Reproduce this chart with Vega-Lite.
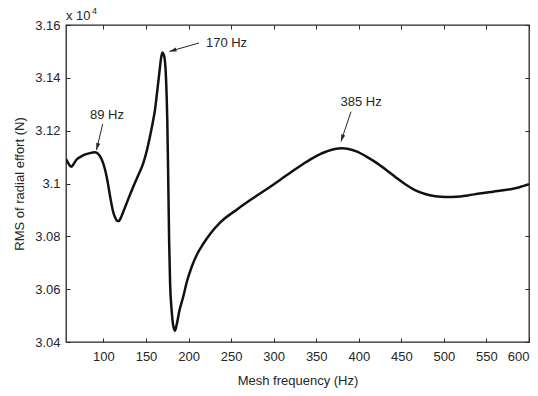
{
  "$schema": "https://vega.github.io/schema/vega-lite/v6.json",
  "width": 463,
  "height": 317,
  "autosize": "none",
  "padding": {"left": 66, "top": 25, "right": 9, "bottom": 54},
  "background": "white",
  "config": {
    "font": "Liberation Sans",
    "view": {"stroke": "#262626", "strokeWidth": 1.3},
    "axis": {
      "grid": false,
      "domain": false,
      "offset": -4,
      "tickColor": "#262626",
      "tickWidth": 1,
      "tickSize": 4,
      "labelFont": "Liberation Sans",
      "labelFontSize": 13,
      "labelColor": "#262626",
      "titleFont": "Liberation Sans",
      "titleFontSize": 13,
      "titleFontWeight": "normal",
      "titleColor": "#262626"
    }
  },
  "datasets": {
    "curve": [
      {"f": 56, "v": 3.1093}, {"f": 59, "v": 3.1075}, {"f": 62, "v": 3.1063}, {"f": 65, "v": 3.1074},
      {"f": 68.5, "v": 3.1091}, {"f": 73, "v": 3.1101}, {"f": 78, "v": 3.1109}, {"f": 84, "v": 3.1115},
      {"f": 90, "v": 3.1118}, {"f": 95, "v": 3.1108}, {"f": 99, "v": 3.1083}, {"f": 102, "v": 3.1051},
      {"f": 105, "v": 3.1005}, {"f": 108, "v": 3.0948}, {"f": 111, "v": 3.0898}, {"f": 113.6, "v": 3.0872},
      {"f": 116, "v": 3.0859}, {"f": 118, "v": 3.0858}, {"f": 120.5, "v": 3.0871}, {"f": 123.3, "v": 3.0893},
      {"f": 129, "v": 3.094}, {"f": 135, "v": 3.0988}, {"f": 141, "v": 3.1032}, {"f": 146.8, "v": 3.1077},
      {"f": 151, "v": 3.1125}, {"f": 154.6, "v": 3.1177}, {"f": 158, "v": 3.1232}, {"f": 160.5, "v": 3.1278},
      {"f": 163, "v": 3.1345}, {"f": 165.6, "v": 3.1417}, {"f": 167.5, "v": 3.147}, {"f": 169.2, "v": 3.1496},
      {"f": 170.8, "v": 3.1488}, {"f": 172.3, "v": 3.1462}, {"f": 173.6, "v": 3.1392}, {"f": 175, "v": 3.124},
      {"f": 176.2, "v": 3.1}, {"f": 177.2, "v": 3.078}, {"f": 178.3, "v": 3.0623}, {"f": 180, "v": 3.0525},
      {"f": 182, "v": 3.0462}, {"f": 184, "v": 3.0443}, {"f": 186, "v": 3.0465}, {"f": 189, "v": 3.0515},
      {"f": 193.8, "v": 3.0572}, {"f": 198, "v": 3.0628}, {"f": 203.5, "v": 3.0683}, {"f": 210, "v": 3.0732},
      {"f": 217.3, "v": 3.0772}, {"f": 226, "v": 3.0812}, {"f": 237, "v": 3.0852}, {"f": 257, "v": 3.0902},
      {"f": 276, "v": 3.0945}, {"f": 296, "v": 3.0988}, {"f": 316, "v": 3.1033}, {"f": 335, "v": 3.1075},
      {"f": 350, "v": 3.1104}, {"f": 362, "v": 3.1121}, {"f": 372, "v": 3.1131}, {"f": 380, "v": 3.1133},
      {"f": 388, "v": 3.1131}, {"f": 398, "v": 3.1121}, {"f": 409, "v": 3.1102}, {"f": 420, "v": 3.108},
      {"f": 432, "v": 3.1052}, {"f": 444, "v": 3.1022}, {"f": 455, "v": 3.0996}, {"f": 466, "v": 3.0975},
      {"f": 478, "v": 3.096}, {"f": 490, "v": 3.0952}, {"f": 502, "v": 3.0949}, {"f": 515, "v": 3.095},
      {"f": 528, "v": 3.0955}, {"f": 542, "v": 3.0962}, {"f": 558, "v": 3.0969}, {"f": 574, "v": 3.0976},
      {"f": 588, "v": 3.0985}, {"f": 600, "v": 3.0997}
    ],
    "notes": [
      {"label": "89 Hz", "tx": 104.2, "ty": 3.1259, "ax1": 99.1, "ay1": 3.1225, "ax2": 91.8, "ay2": 3.1127},
      {"label": "170 Hz", "tx": 244.6, "ty": 3.1532, "ax1": 212.3, "ay1": 3.1532, "ax2": 177.6, "ay2": 3.15},
      {"label": "385 Hz", "tx": 402.7, "ty": 3.1309, "ax1": 390.9, "ay1": 3.1272, "ax2": 379.1, "ay2": 3.1159}
    ],
    "corner": [{"f": 56, "v": 3.16}]
  },
  "resolve": {"axis": {"x": "independent", "y": "independent"}},
  "layer": [
    {
      "data": {"name": "curve"},
      "mark": {"type": "line", "color": "#111111", "strokeWidth": 2.5, "clip": true, "interpolate": "monotone"},
      "encoding": {
        "x": {
          "field": "f", "type": "quantitative",
          "scale": {"domain": [56, 600], "nice": false, "zero": false},
          "axis": {"orient": "bottom", "values": [100, 150, 200, 250, 300, 350, 400, 450, 500, 550, 600], "title": "Mesh frequency (Hz)", "labelPadding": 8, "titlePadding": 11}
        },
        "y": {
          "field": "v", "type": "quantitative",
          "scale": {"domain": [3.04, 3.16], "nice": false, "zero": false},
          "axis": {"orient": "left", "values": [3.04, 3.06, 3.08, 3.1, 3.12, 3.14, 3.16], "labelExpr": "format(datum.value, '~g')", "title": "RMS of radial effort (N)", "labelPadding": 6, "titlePadding": 8}
        }
      }
    },
    {
      "data": {"name": "notes"},
      "mark": {"type": "rule", "color": "#262626", "strokeWidth": 1},
      "encoding": {
        "x": {"field": "ax1", "type": "quantitative", "axis": {"orient": "top", "values": [100, 150, 200, 250, 300, 350, 400, 450, 500, 550, 600], "labels": false, "title": null}},
        "y": {"field": "ay1", "type": "quantitative", "axis": {"orient": "right", "values": [3.04, 3.06, 3.08, 3.1, 3.12, 3.14, 3.16], "labels": false, "title": null}},
        "x2": {"field": "ax2"},
        "y2": {"field": "ay2"}
      }
    },
    {
      "data": {"name": "notes"},
      "mark": {"type": "text", "fontSize": 13, "color": "#262626", "align": "center", "baseline": "middle"},
      "encoding": {
        "x": {"field": "tx", "type": "quantitative", "axis": null},
        "y": {"field": "ty", "type": "quantitative", "axis": null},
        "text": {"field": "label"}
      }
    },
    {
      "data": {"name": "notes"},
      "transform": [{"filter": "datum.label == '89 Hz'"}],
      "mark": {"type": "point", "shape": "M0,0L-0.6,2L0.6,2Z", "filled": true, "color": "#262626", "size": 49, "angle": 194.5, "opacity": 1},
      "encoding": {
        "x": {"field": "ax2", "type": "quantitative", "axis": null},
        "y": {"field": "ay2", "type": "quantitative", "axis": null}
      }
    },
    {
      "data": {"name": "notes"},
      "transform": [{"filter": "datum.label == '170 Hz'"}],
      "mark": {"type": "point", "shape": "M0,0L-0.6,2L0.6,2Z", "filled": true, "color": "#262626", "size": 49, "angle": 253.9, "opacity": 1},
      "encoding": {
        "x": {"field": "ax2", "type": "quantitative", "axis": null},
        "y": {"field": "ay2", "type": "quantitative", "axis": null}
      }
    },
    {
      "data": {"name": "notes"},
      "transform": [{"filter": "datum.label == '385 Hz'"}],
      "mark": {"type": "point", "shape": "M0,0L-0.6,2L0.6,2Z", "filled": true, "color": "#262626", "size": 49, "angle": 198.5, "opacity": 1},
      "encoding": {
        "x": {"field": "ax2", "type": "quantitative", "axis": null},
        "y": {"field": "ay2", "type": "quantitative", "axis": null}
      }
    },
    {
      "data": {"name": "corner"},
      "mark": {"type": "text", "text": "x 10", "fontSize": 13, "color": "#262626", "align": "left", "baseline": "bottom", "dy": -2},
      "encoding": {
        "x": {"field": "f", "type": "quantitative", "axis": null},
        "y": {"field": "v", "type": "quantitative", "axis": null}
      }
    },
    {
      "data": {"name": "corner"},
      "mark": {"type": "text", "text": "4", "fontSize": 9, "color": "#262626", "align": "left", "baseline": "bottom", "dx": 26, "dy": -9},
      "encoding": {
        "x": {"field": "f", "type": "quantitative", "axis": null},
        "y": {"field": "v", "type": "quantitative", "axis": null}
      }
    }
  ]
}
